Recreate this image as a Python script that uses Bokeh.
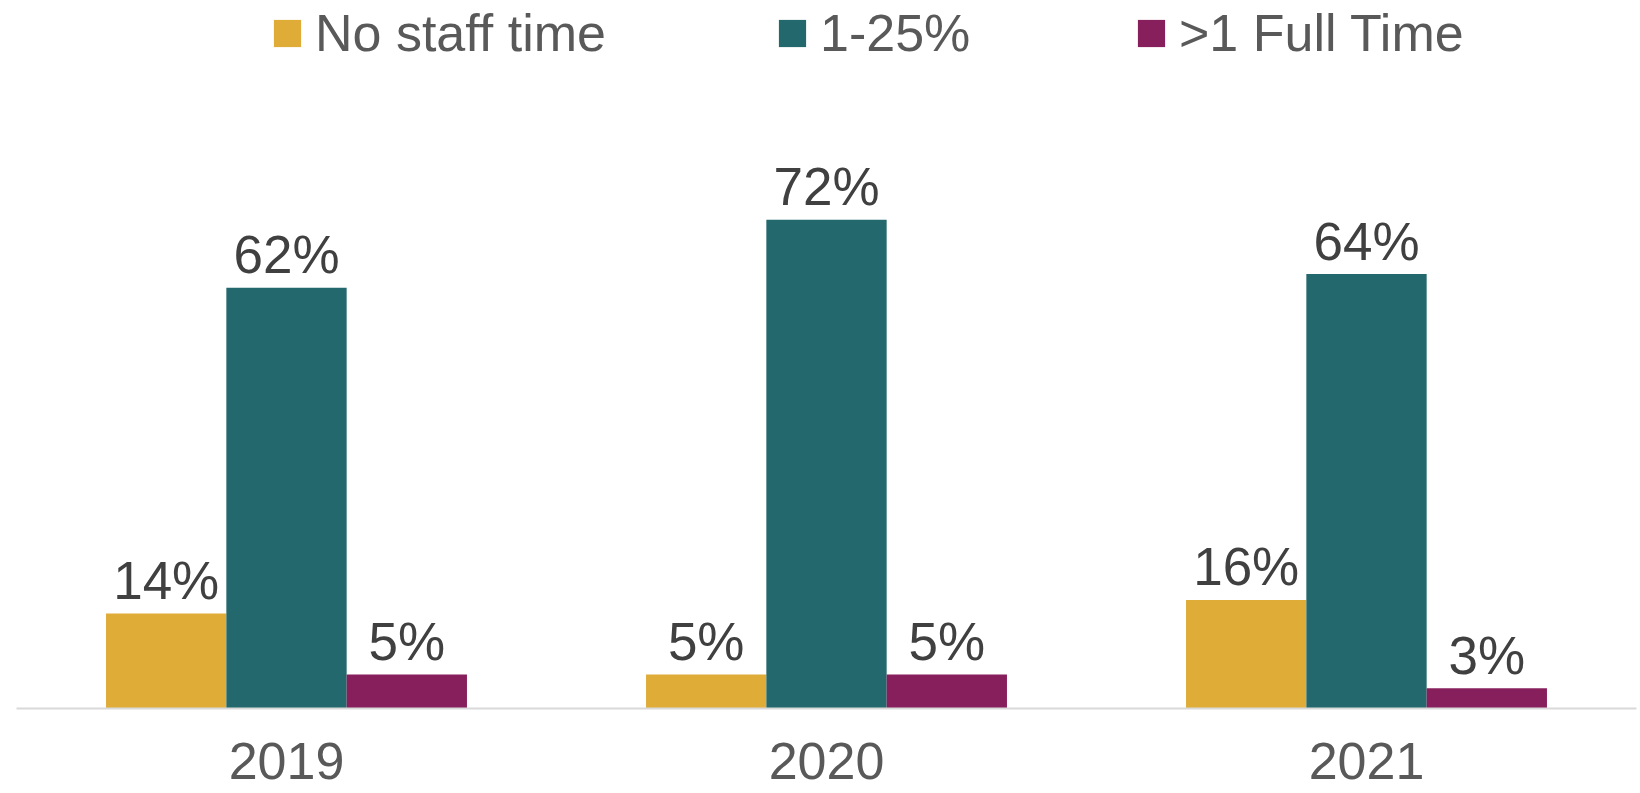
from bokeh.plotting import figure
from bokeh.models import ColumnDataSource, Legend, LegendItem, Range1d, FactorRange
from bokeh.core.properties import value
from bokeh.transform import dodge
from bokeh.embed import file_html
from bokeh.resources import INLINE

years = ["2019", "2020", "2021"]
series = ["No staff time", "1-25%", ">1 Full Time"]
no_staff = [14, 5, 16]
low_pct = [62, 72, 64]
full_time = [5, 5, 3]
colors = ["#DFAC38", "#22686C", "#871F5C"]

FONT = "Liberation Sans"

p = figure(x_range=FactorRange(*years, range_padding=0), y_range=Range1d(0, 104.3),
           width=1640, height=793, output_backend="svg", toolbar_location=None,
           min_border_left=16, min_border_right=4, min_border_top=0, min_border_bottom=85)
p.outline_line_color = None
p.grid.visible = False
p.yaxis.visible = False
p.background_fill_color = None
p.border_fill_color = "white"

xa = p.xaxis[0]
xa.axis_line_color = "#D9D9D9"
xa.axis_line_width = 2
xa.major_tick_line_color = None
xa.minor_tick_line_color = None
xa.major_label_text_font = FONT
xa.major_label_text_font_size = "52px"
xa.major_label_text_color = "#595959"
xa.major_label_standoff = 28

src = ColumnDataSource(dict(year=years, s0=no_staff, s1=low_pct, s2=full_time,
                            l0=[f"{v}%" for v in no_staff],
                            l1=[f"{v}%" for v in low_pct],
                            l2=[f"{v}%" for v in full_time]))

w = 0.2228
offsets = [-w, 0.0, w]
renderers = []
for i, (off, col) in enumerate(zip(offsets, colors)):
    r = p.vbar(x=dodge("year", off, range=p.x_range), top=f"s{i}", width=w,
               source=src, fill_color=col, line_color=None)
    renderers.append(r)
    p.text(x=dodge("year", off, range=p.x_range), y=f"s{i}", text=f"l{i}",
           source=src, text_align="center", text_baseline="alphabetic", y_offset=-33,
           text_font=value(FONT), text_font_size="53px", text_color="#404040")

legend_x = [254, 759, 1118]
for name, r, lx in zip(series, renderers, legend_x):
    lg = Legend(items=[LegendItem(label=name, renderers=[r])], location=(lx, 645),
                orientation="horizontal", padding=0, margin=0, border_line_color=None,
                background_fill_alpha=0, glyph_width=34, glyph_height=34, label_standoff=11,
                label_text_font=FONT, label_text_font_size="52px", label_text_color="#595959",
                label_text_line_height=1.0, label_height=25)
    p.add_layout(lg, "center")

open("out.html", "w").write(file_html(p, INLINE))
